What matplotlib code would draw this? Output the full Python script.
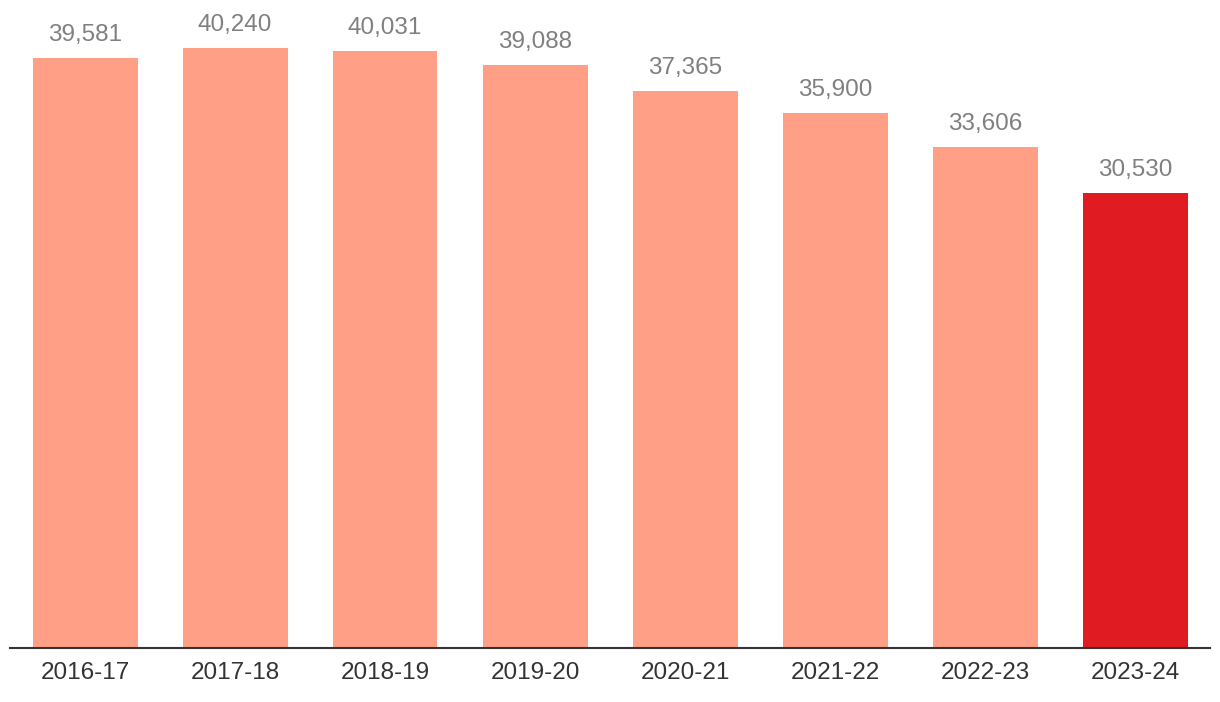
import matplotlib
matplotlib.use("Agg")
import matplotlib.pyplot as plt

# Data
years = ["2016-17", "2017-18", "2018-19", "2019-20", "2020-21", "2021-22", "2022-23", "2023-24"]
values = [39581, 40240, 40031, 39088, 37365, 35900, 33606, 30530]

light = "#FFA086"
highlight = "#E01B22"
colors = [light] * (len(values) - 1) + [highlight]

plt.rcParams['font.family'] = ['Liberation Sans', 'DejaVu Sans']

fig = plt.figure(figsize=(12.2, 7.02), dpi=100)
ax = fig.add_axes([10 / 1220, 54 / 702, 1200 / 1220, 648 / 702])

x = range(len(years))
bars = ax.bar(x, values, width=0.7, color=colors)

for rect, v in zip(bars, values):
    ax.annotate(f"{v:,}", (rect.get_x() + rect.get_width() / 2, rect.get_height()),
                xytext=(0, 8.5), textcoords="offset points",
                ha="center", va="bottom", fontsize=17.5, color="#808080")

ax.set_xlim(-0.5, len(years) - 0.5)
ax.set_ylim(0, 40240 * 648 / 600)
ax.set_xticks(list(x))
ax.set_xticklabels(years, fontsize=17.5, color="#333333")
ax.tick_params(axis="x", length=0, pad=10)
ax.set_yticks([])

for side in ["top", "right", "left"]:
    ax.spines[side].set_visible(False)
ax.spines["bottom"].set_color("#333333")
ax.spines["bottom"].set_linewidth(1.5)

fig.savefig("out.png", dpi=100)
